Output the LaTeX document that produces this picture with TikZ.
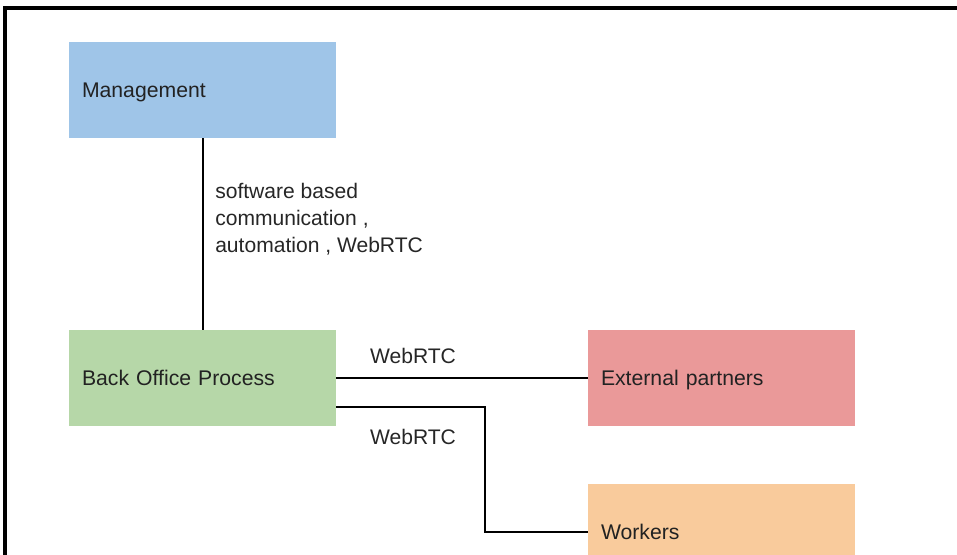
\documentclass[tikz,border=0pt]{standalone}
\usepackage{fontspec}
\setmainfont{Liberation Sans}
\usetikzlibrary{calc}
\definecolor{mgmtc}{HTML}{9FC5E8}
\definecolor{boc}{HTML}{B6D7A8}
\definecolor{extc}{HTML}{EA9999}
\definecolor{wkc}{HTML}{F9CB9C}
\definecolor{txtc}{HTML}{222222}
\tikzset{
  box/.style={rectangle, minimum width=200.25pt, minimum height=72pt, text width=180.75pt,
    text height=14pt, text depth=3pt,
    inner xsep=9.75pt, inner ysep=0pt, align=left, font=\fontsize{15.9}{18}\selectfont, text=txtc},
  conn/.style={line width=1.5pt, black},
  lbl/.style={font=\fontsize{15.8}{20.2}\selectfont, text=black!85, inner sep=0pt}
}
\begin{document}
\begin{tikzpicture}[x=0.75pt, y=-0.75pt]
\useasboundingbox (0,0) rectangle (957,554);
\clip (0,0) rectangle (957,554);
\fill[white] (0,0) rectangle (957,554);
% frame
\draw[line width=2.3pt, black] (5,600) -- (5,8) -- (1000,8);
% boxes
\node[box, fill=mgmtc] (mg) at (202.5,90) {Management};
\node[box, fill=boc] (bo) at (202.5,378) {Back Office Process};
\node[box, fill=extc] (ex) at (721.5,378) {External partners};
\node[box, fill=wkc] (wk) at (721.5,532) {Workers};
% connectors
\draw[conn] (mg.south) -- (bo.north);
\draw[conn] (bo.east) -- (ex.west);
\coordinate (bo2) at ($(bo.east)+(0,29)$);
\coordinate (bend) at ($(bo2)+(149,0)$);
\draw[conn] (bo2) -- (bend) |- (wk.west);
% labels
\node[lbl, anchor=north west, align=left] (l1) at (215,183) {software based\\communication ,\\automation , WebRTC};
\node[lbl] (l2) at (413,356) {WebRTC};
\node[lbl] (l3) at (413,437) {WebRTC};
\end{tikzpicture}
\end{document}
